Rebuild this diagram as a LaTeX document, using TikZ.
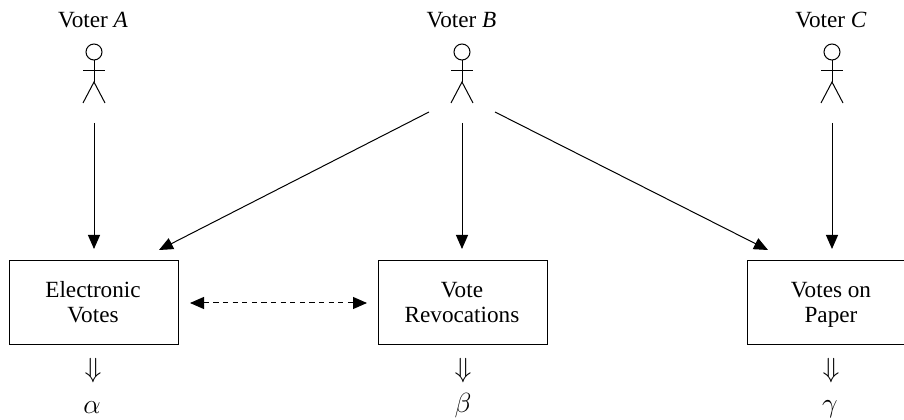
\documentclass[tikz,border=0pt]{standalone}
\usepackage{fontspec}
\setmainfont{Liberation Serif}
\usetikzlibrary{arrows.meta}
\tikzset{
  x=0.75pt,y=-0.75pt,
  every node/.style={font=\fontsize{17.4}{18.75}\selectfont},
  box/.style={draw,line width=0.75pt,minimum width=126.5pt,minimum height=63pt,inner sep=0pt,align=center},
  lab/.style={inner sep=0pt,anchor=base},
  mlab/.style={inner sep=0pt,anchor=base,font=\fontsize{20.74}{23}\selectfont},
  conn/.style={line width=0.75pt,-{Triangle[length=10.5pt,width=9pt]}},
  dconn/.style={line width=0.75pt,dash pattern=on 4pt off 3.2pt,{Triangle[length=10.5pt,width=9pt]}-{Triangle[length=10.5pt,width=9pt]}},
  fig/.style={line width=0.75pt},
}
\newcommand{\stick}[1]{%
  \draw[fig] (#1,52) circle (8);
  \draw[fig] (#1,60) -- (#1,82);
  \draw[fig] (#1-11,71) -- (#1+11,71);
  \draw[fig] (#1-11,103) -- (#1,82) -- (#1+11,103);
}
\newcommand{\topline}[1]{\rule{0pt}{16.1pt}#1\hspace*{1.5pt}}
\newcommand{\botline}[1]{\strut #1\hspace*{1.5pt}}
\begin{document}
\begin{tikzpicture}
\useasboundingbox (0,0) rectangle (904,420);
\clip (0,0) rectangle (904,420);
\node[lab] (va) at (93,28) {Voter \textit{A}};
\node[lab] (vb) at (461.5,28) {Voter \textit{B}};
\node[lab] (vc) at (831,28) {Voter \textit{C}};
\stick{94}\stick{462}\stick{832}
\coordinate (fa) at (94,123);
\coordinate (fb) at (462,123);
\coordinate (fbl) at (429,112);
\coordinate (fbr) at (495,112);
\coordinate (fc) at (832,123);
\coordinate (ta) at (94,249);
\coordinate (tb) at (462,249);
\coordinate (tbl) at (159,250);
\coordinate (tbr) at (768,250);
\coordinate (tc) at (832,249);
\node[box] (ev) at (94,303) {\topline{Electronic}\\\botline{Votes}};
\node[box] (vr) at (463,303) {\topline{Vote}\\\botline{Revocations}};
\node[box] (vp) at (832,303) {\topline{Votes on}\\\botline{Paper}};
\coordinate (dl) at (190,303);
\coordinate (dr) at (367,303);
\draw[conn] (fa) -- (ta);
\draw[conn] (fb) -- (tb);
\draw[conn] (fc) -- (tc);
\draw[conn] (fbl) -- (tbl);
\draw[conn] (fbr) -- (tbr);
\draw[dconn] (dl) -- (dr);
\node[mlab] (ia) at (93,378) {$\Downarrow$};
\node[mlab] (ib) at (463,378) {$\Downarrow$};
\node[mlab] (ic) at (831,378) {$\Downarrow$};
\node[mlab] (ra) at (92,414) {$\alpha$};
\node[mlab] (rb) at (463,413) {$\beta$};
\node[mlab] (rc) at (830,413) {$\gamma$};
\end{tikzpicture}
\end{document}
